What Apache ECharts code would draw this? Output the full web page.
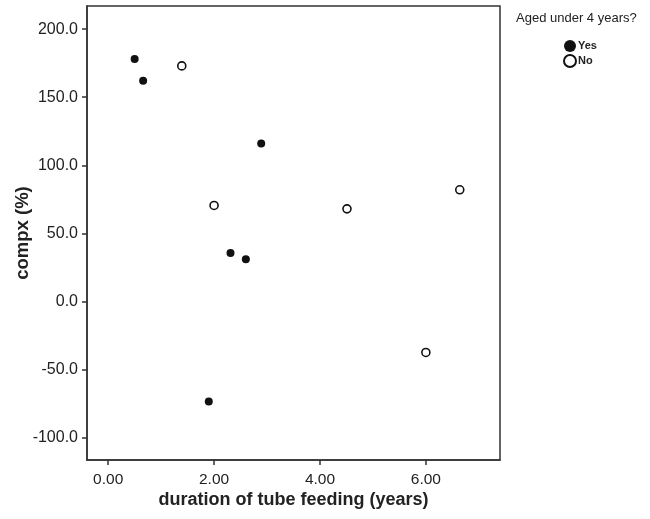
<!DOCTYPE html>
<html>
<head>
<meta charset="utf-8">
<script src="https://cdn.jsdelivr.net/npm/echarts@6/dist/echarts.min.js"></script>
<style>
  html, body { margin: 0; padding: 0; background: #fff; }
  #chart { width: 650px; height: 519px; }
</style>
</head>
<body>
<div id="chart"></div>
<script>
// duration of tube feeding (years), compx (%)
const yesPoints = [[0.50, 178], [0.66, 162], [2.89, 116], [2.31, 35.5], [2.60, 31], [1.90, -73.5]]
const noPoints = [[1.39, 173], [2.00, 70.5], [4.51, 68], [6.64, 82], [6.00, -37.5]]

const xTicks = [0, 2, 4, 6]
const yTicks = [-100, -50, 0, 50, 100, 150, 200]

const legendTitle = 'Aged under 4 years?'
const xName = 'duration of tube feeding (years)'
const yName = 'compx (%)'

const font = 'Liberation Sans, Arial, sans-serif'
const ink = '#222'

const chart = echarts.init(document.getElementById('chart'))

chart.setOption({
  backgroundColor: '#fff',
  animation: false,
  title: {
    text: legendTitle,
    left: 511,
    top: 7,
    textStyle: { fontFamily: font, fontSize: 13, fontWeight: 'normal', color: ink }
  },
  legend: {
    orient: 'vertical',
    left: 558,
    top: 35,
    itemWidth: 12,
    itemHeight: 12,
    itemGap: 2,
    icon: 'circle',
    textStyle: { fontFamily: font, fontSize: 11, fontWeight: 'bold', color: ink, padding: [0, 0, 0, -3] },
    data: ['Yes', 'No']
  },
  grid: {
    left: 87,
    top: 6,
    width: 413,
    height: 454,
    outerBoundsMode: 'none',
    show: true,
    borderColor: '#333',
    borderWidth: 1.5,
    backgroundColor: 'transparent'
  },
  xAxis: {
    type: 'value',
    min: -0.4,
    max: 7.4,
    name: xName,
    nameLocation: 'middle',
    nameGap: 31,
    nameMoveOverlap: false,
    nameTextStyle: { fontFamily: font, fontSize: 18, fontWeight: 'bold', color: ink },
    axisLine: { show: true, onZero: false, lineStyle: { color: '#333', width: 1.5 } },
    axisTick: { show: true, length: 5, customValues: xTicks, lineStyle: { color: '#333', width: 1.5 } },
    axisLabel: {
      customValues: xTicks,
      formatter: v => v.toFixed(2),
      fontFamily: font, fontSize: 15.5, color: ink, margin: 12
    },
    splitLine: { show: false }
  },
  yAxis: {
    type: 'value',
    min: -116.5,
    max: 217,
    name: yName,
    nameLocation: 'middle',
    nameGap: 55,
    nameMoveOverlap: false,
    nameTextStyle: { fontFamily: font, fontSize: 18.5, fontWeight: 'bold', color: ink },
    axisLine: { show: true, onZero: false, lineStyle: { color: '#333', width: 1.5 } },
    axisTick: { show: true, length: 5, customValues: yTicks, lineStyle: { color: '#333', width: 1.5 } },
    axisLabel: {
      customValues: yTicks,
      formatter: v => v.toFixed(1),
      fontFamily: font, fontSize: 16, color: ink, margin: 9
    },
    splitLine: { show: false }
  },
  series: [
    {
      name: 'Yes',
      type: 'scatter',
      symbol: 'circle',
      symbolSize: 8,
      itemStyle: { color: '#111', opacity: 1 },
      data: yesPoints
    },
    {
      name: 'No',
      type: 'scatter',
      symbol: 'circle',
      symbolSize: 8,
      itemStyle: { color: '#fff', borderColor: '#111', borderWidth: 1.6, opacity: 1 },
      data: noPoints
    }
  ]
})
</script>
</body>
</html>
